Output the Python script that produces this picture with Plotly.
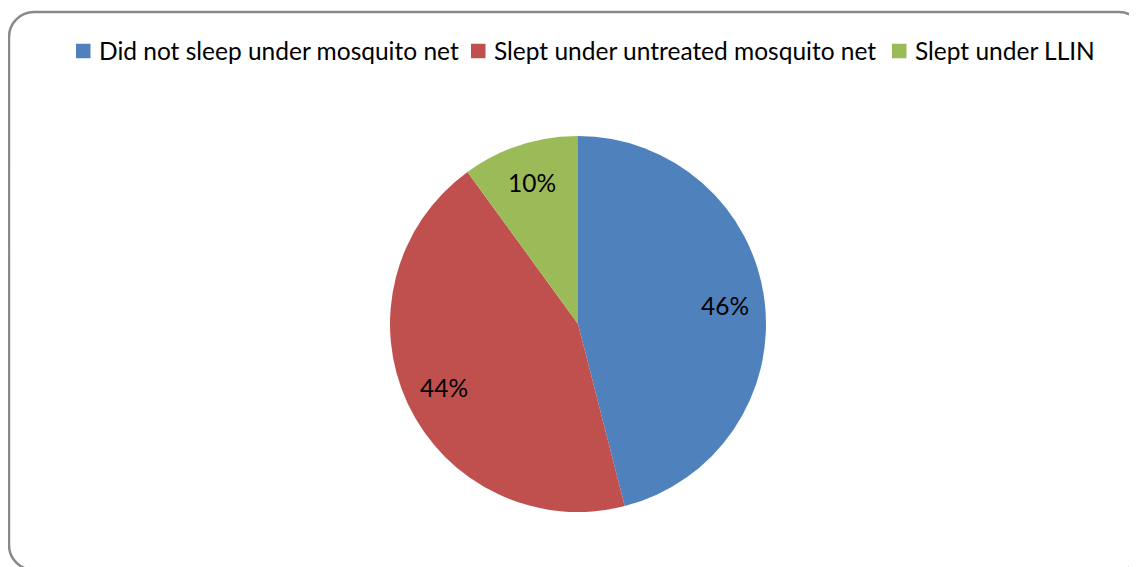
import math
import plotly.graph_objects as go

# The page puts an 8px body margin around the figure; compensate for it.
OFF = 8
PAGE_W, PAGE_H = 1137, 567
W, H = PAGE_W - OFF, PAGE_H - OFF

categories = ["Did not sleep under mosquito net", "Slept under untreated mosquito net", "Slept under LLIN"]
values = [46, 44, 10]
colors = ["#4F81BD", "#C0504D", "#9BBB59"]

FONT = "Lato"
FONT_SIZE = 24.5


def px(x):
    return (x - OFF) / W


def py(y):
    return 1 - (y - OFF) / H


# pie geometry in page pixels
CX, CY, R = 578, 324, 188

fig = go.Figure()
fig.add_trace(go.Pie(
    labels=categories,
    values=values,
    marker=dict(colors=colors, line=dict(width=0)),
    sort=False,
    direction="clockwise",
    rotation=0,
    textinfo="none",
    showlegend=False,
    domain=dict(x=[px(CX - R), px(CX + R)], y=[py(CY + R), py(CY - R)]),
    hoverinfo="label+percent",
))

# percentage labels placed along each slice's mid-angle
total = sum(values)
cum = 0
for v in values:
    mid = (cum + v / 2) / total * 2 * math.pi
    cum += v
    d = 0.79 * R
    lx = CX + d * math.sin(mid)
    ly = CY - d * math.cos(mid)
    fig.add_annotation(
        x=px(lx), y=py(ly), xref="paper", yref="paper",
        text=f"{round(v / total * 100)}%", showarrow=False,
        font=dict(family=FONT, size=FONT_SIZE, color="#000000"),
        xanchor="center", yanchor="middle",
    )

# Legend row (Excel style: square key followed by its label)
LEG_Y = 51
LEG_TEXT_X = [97, 492, 913]
KEY = 14.5
for name, col, tx in zip(categories, colors, LEG_TEXT_X):
    fig.add_shape(type="rect", xref="paper", yref="paper",
                  x0=px(tx - 6.5 - KEY), x1=px(tx - 6.5),
                  y0=py(LEG_Y + KEY / 2), y1=py(LEG_Y - KEY / 2),
                  fillcolor=col, line=dict(width=0))
    fig.add_annotation(x=px(tx), y=py(LEG_Y), xref="paper", yref="paper",
                       text=name, showarrow=False,
                       xanchor="left", yanchor="middle",
                       font=dict(family=FONT, size=FONT_SIZE, color="#000000"))

# Rounded chart border
x0, y0, x1, y1, r = 9, 12, 1144, 570, 25
k = 0.5523 * r
path = (
    f"M {px(x0)},{py(y0 + r)} "
    f"C {px(x0)},{py(y0 + r - k)} {px(x0 + r - k)},{py(y0)} {px(x0 + r)},{py(y0)} "
    f"L {px(x1 - r)},{py(y0)} "
    f"C {px(x1 - r + k)},{py(y0)} {px(x1)},{py(y0 + r - k)} {px(x1)},{py(y0 + r)} "
    f"L {px(x1)},{py(y1 - r)} "
    f"C {px(x1)},{py(y1 - r + k)} {px(x1 - r + k)},{py(y1)} {px(x1 - r)},{py(y1)} "
    f"L {px(x0 + r)},{py(y1)} "
    f"C {px(x0 + r - k)},{py(y1)} {px(x0)},{py(y1 - r + k)} {px(x0)},{py(y1 - r)} Z"
)
fig.add_shape(type="path", path=path, xref="paper", yref="paper",
              line=dict(color="#898989", width=2.5), layer="below")

fig.update_layout(
    width=W, height=H,
    margin=dict(l=0, r=0, t=0, b=0),
    paper_bgcolor="white",
    plot_bgcolor="white",
    showlegend=False,
    font=dict(family=FONT),
)

fig.write_html("out.html")
